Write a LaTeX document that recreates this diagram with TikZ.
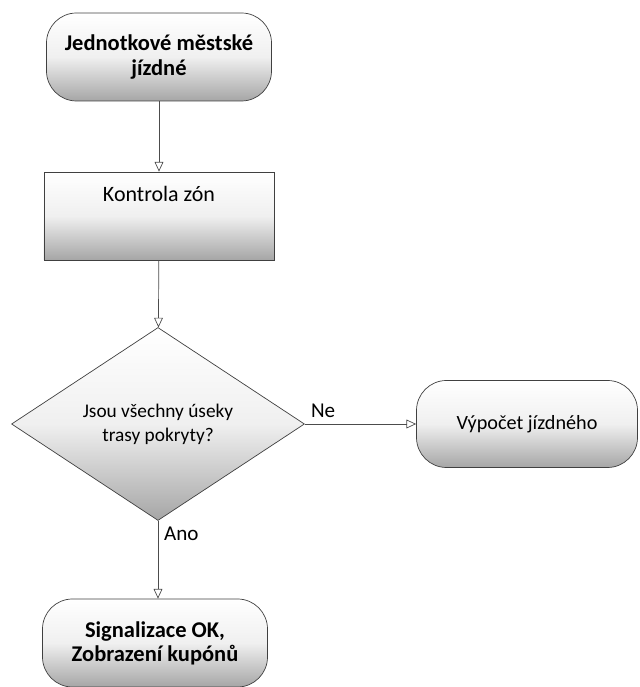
\documentclass[tikz,border=0pt]{standalone}
\usepackage{fontspec}
\setmainfont{Carlito}
\usepackage{tikz}
\usetikzlibrary{arrows.meta,shapes.geometric}

\begin{document}
\begin{tikzpicture}[every node/.style={font=\fontsize{11}{13.7}\selectfont, align=center}, >={Triangle[open,length=5.5pt,width=5pt]},
	shaded/.style={draw=black!75, top color=white, bottom color=black!35, middle color=black!6},
	terminal/.style={shaded, rounded corners=0.6cm, minimum width=4.5cm, minimum height=1.76cm},
	process/.style={shaded, minimum width=4.6cm, minimum height=1.76cm, text height=8pt, text depth=25pt},
	decision/.style={shaded, diamond, minimum width=5.86cm, minimum height=3.86cm, inner sep=0pt},
	flow/.style={->, black!70},
	tag/.style={black, font=\fontsize{12}{14}\selectfont}]
	\useasboundingbox (0,0) rectangle (12.78,13.74);
	\node[terminal, font=\fontsize{12.8}{13.7}\selectfont\bfseries] (start) at (3.18,12.60) {Jednotkové městské\\jízdné};
	\node[process, font=\fontsize{12.5}{14}\selectfont] (kontrola) at (3.18,9.42) {Kontrola zón};
	\node[decision] (dotaz) at (3.16,5.26) {Jsou všechny úseky\\trasy pokryty?};
	\node[terminal, minimum width=4.42cm, minimum height=1.74cm, font=\fontsize{11.5}{14}\selectfont] (vypocet) at (10.54,5.26) {Výpočet jízdného};
	\node[terminal, font=\fontsize{12.8}{13.7}\selectfont\bfseries] (konec) at (3.10,0.88) {Signalizace OK,\\Zobrazení kupónů};
	\draw[flow] (start) -- (kontrola);
	\draw[flow] (kontrola) -- (dotaz);
	\draw[flow] (dotaz.east) -- (vypocet.west) node[tag, pos=0, above right] (ne) {Ne};
	\draw[flow] (dotaz.south) -- (dotaz.south |- konec.north) node[tag, pos=0.17, right] (ano) {Ano};
\end{tikzpicture}
\end{document}
